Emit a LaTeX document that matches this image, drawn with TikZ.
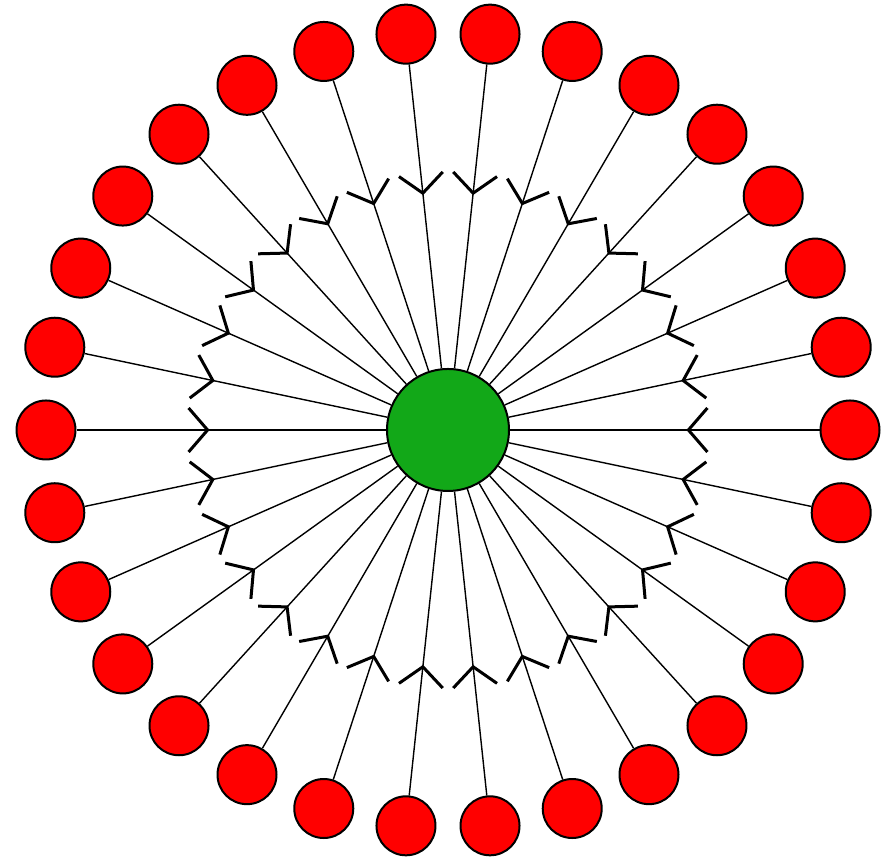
\documentclass[tikz,border=0pt]{standalone}
\usetikzlibrary{arrows.meta,decorations.markings}
\definecolor{leafred}{RGB}{255,0,0}
\definecolor{hubgreen}{RGB}{18,168,24}
\tikzset{
  ring x/.store in=\RingX,
  ring y/.store in=\RingY,
  leaf count/.store in=\LeafCount,
  ring x=402,
  ring y=398,
  leaf count=30,
  leaf/.style={circle, draw=black, line width=1pt, fill=leafred,
    minimum size=29.5pt, inner sep=0pt},
  hub/.style={circle, draw=black, line width=1pt, fill=hubgreen,
    minimum size=61pt, inner sep=0pt},
  spoke/.style={line width=0.7pt, postaction={decorate},
    decoration={markings, mark=at position 0.43 with
      {\arrow{Straight Barb[length=9.5pt,width=22pt,line width=1.5pt]}}}}
}

\begin{document}
\begin{tikzpicture}[x=0.5pt, y=0.5pt, line join=round]
  \useasboundingbox (0,0) rectangle (885,860);

  % Hub
  \node[hub] (H) at (448,430) {};

  % Leaves on the ring
  \foreach \i in {1,...,\LeafCount}{
    \pgfmathsetmacro{\Ang}{360/\LeafCount*(\i-1)}
    \node[leaf] (L\i) at ({448+\RingX*cos(\Ang)},{430+\RingY*sin(\Ang)}) {};
  }

  % Spokes (leaf -> hub)
  \foreach \i in {1,...,\LeafCount}
    \draw[spoke] (L\i) -- (H);

\end{tikzpicture}
\end{document}
